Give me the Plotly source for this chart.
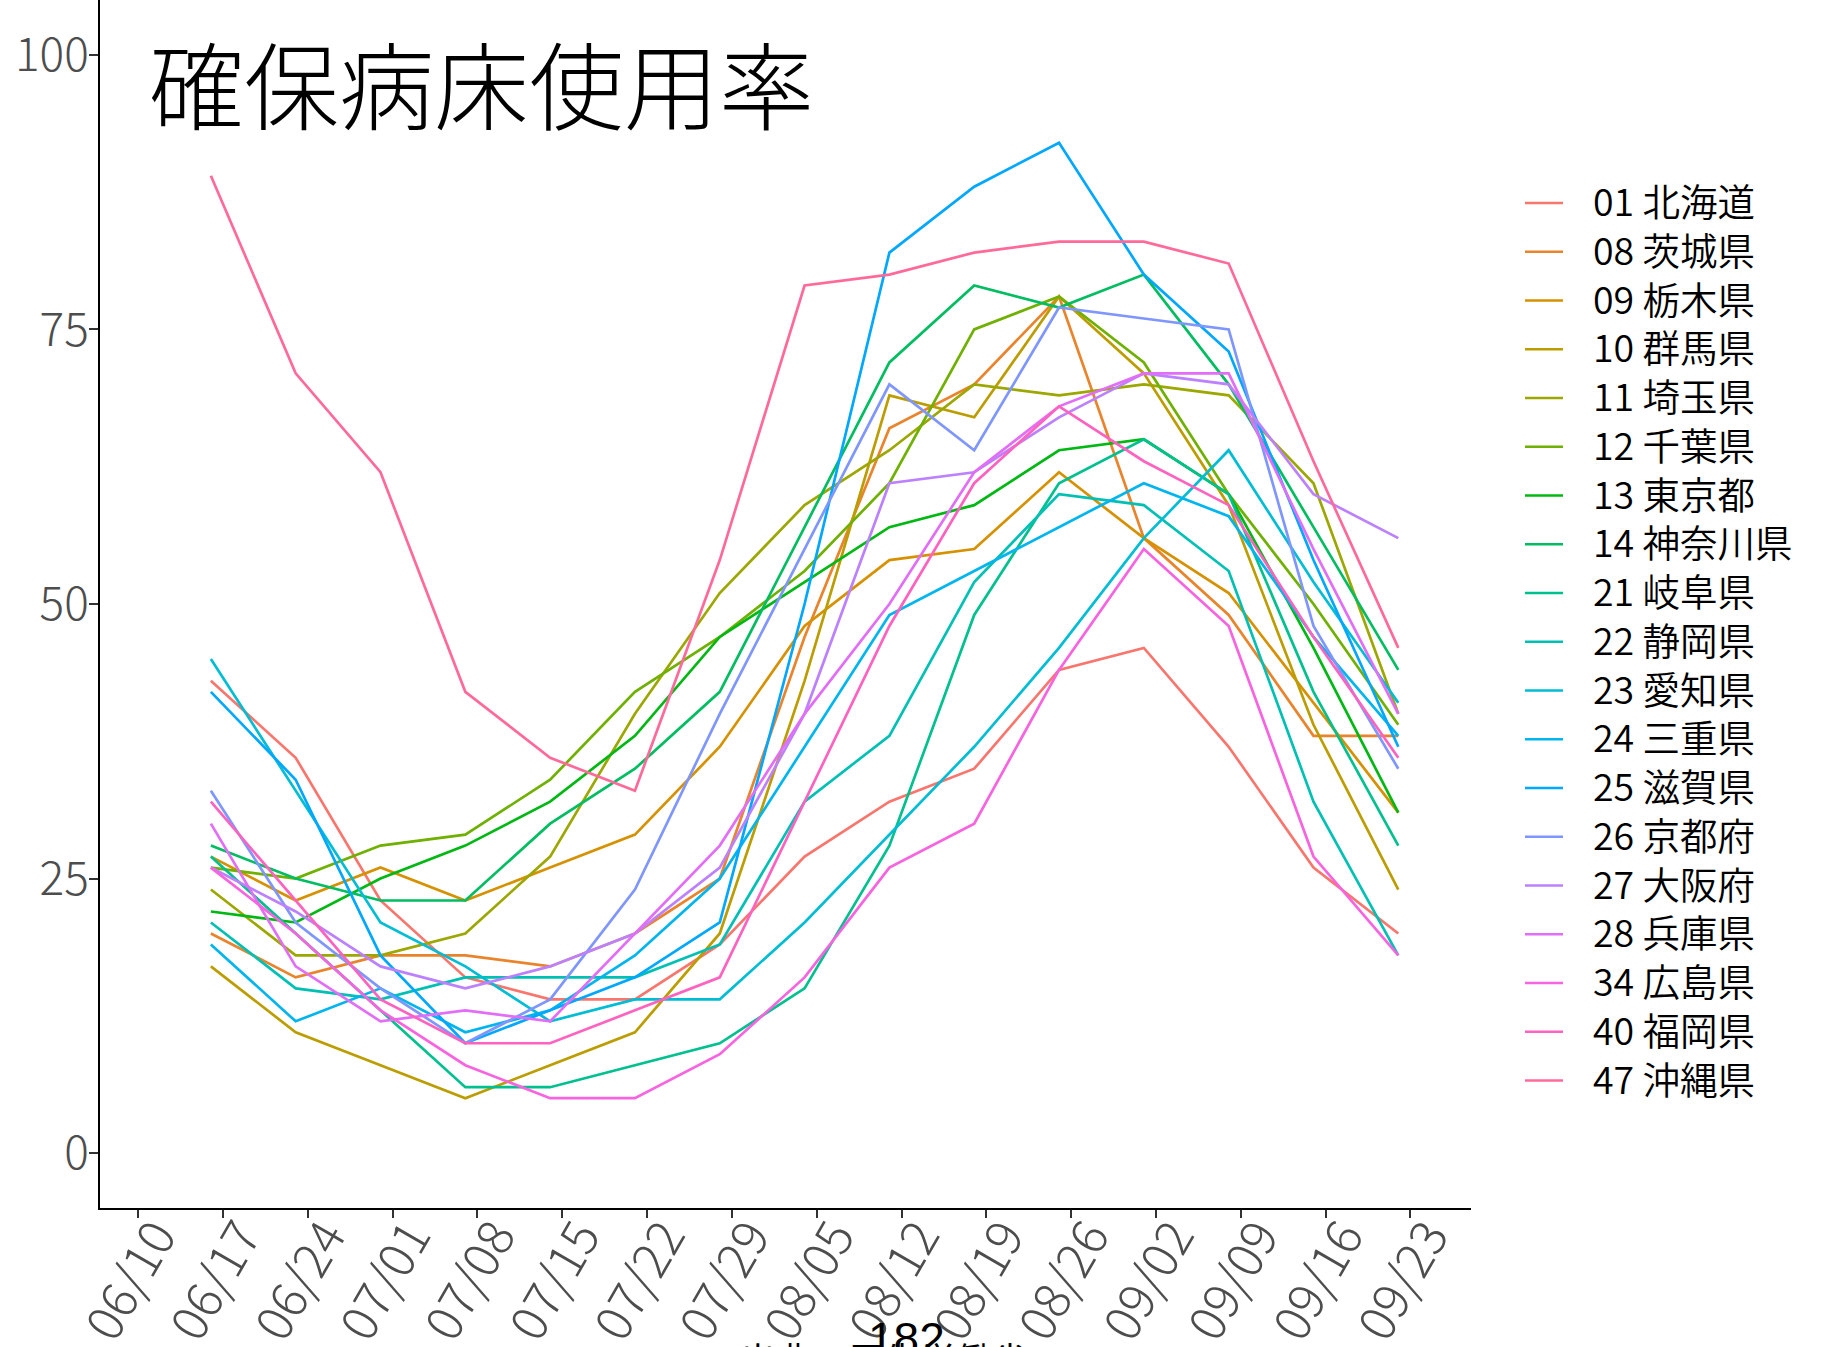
import math
import plotly.graph_objects as go

# ---------------- data ----------------
dates = ["2021-06-16", "2021-06-23", "2021-06-30", "2021-07-07", "2021-07-14",
         "2021-07-21", "2021-07-28", "2021-08-04", "2021-08-11", "2021-08-18",
         "2021-08-25", "2021-09-01", "2021-09-08", "2021-09-15", "2021-09-22"]

tick_dates = ["2021-06-10", "2021-06-17", "2021-06-24", "2021-07-01", "2021-07-08",
              "2021-07-15", "2021-07-22", "2021-07-29", "2021-08-05", "2021-08-12",
              "2021-08-19", "2021-08-26", "2021-09-02", "2021-09-09", "2021-09-16",
              "2021-09-23"]
tick_labels = ["06/10", "06/17", "06/24", "07/01", "07/08", "07/15", "07/22", "07/29",
               "08/05", "08/12", "08/19", "08/26", "09/02", "09/09", "09/16", "09/23"]

prefectures = ["01 北海道", "08 茨城県", "09 栃木県", "10 群馬県", "11 埼玉県",
               "12 千葉県", "13 東京都", "14 神奈川県", "21 岐阜県", "22 静岡県",
               "23 愛知県", "24 三重県", "25 滋賀県", "26 京都府", "27 大阪府",
               "28 兵庫県", "34 広島県", "40 福岡県", "47 沖縄県"]

hokkaido = [43, 36, 23, 16, 14, 14, 19, 27, 32, 35, 44, 46, 37, 26, 20]
ibaraki  = [20, 16, 18, 18, 17, 20, 25, 47, 66, 70, 78, 56, 49, 38, 38]
tochigi  = [27, 23, 26, 23, 26, 29, 37, 48, 54, 55, 62, 56, 51, 41, 31]
gunma    = [17, 11, 8, 5, 8, 11, 20, 43, 69, 67, 78, 71, 59, 39, 24]
saitama  = [24, 18, 18, 20, 27, 40, 51, 59, 64, 70, 69, 70, 69, 61, 40]
chiba    = [26, 25, 28, 29, 34, 42, 47, 53, 61, 75, 78, 72, 60, 50, 39]
tokyo    = [22, 21, 25, 28, 32, 38, 47, 52, 57, 59, 64, 65, 60, 46, 31]
kanagawa = [28, 25, 23, 23, 30, 35, 42, 57, 72, 79, 77, 80, 70, 57, 44]
gifu     = [27, 20, 13, 6, 6, 8, 10, 15, 28, 49, 61, 65, 60, 42, 28]
shizuoka = [21, 15, 14, 16, 16, 16, 19, 32, 38, 52, 60, 59, 53, 32, 18]
aichi    = [45, 33, 21, 17, 12, 14, 14, 21, 29, 37, 46, 56, 64, 52, 41]
mie      = [19, 12, 15, 11, 13, 18, 25, 37, 49, 53, 57, 61, 58, 47, 38]
shiga    = [42, 34, 18, 10, 13, 16, 21, 50, 82, 88, 92, 80, 73, 54, 37]
kyoto    = [33, 21, 15, 10, 14, 24, 40, 55, 70, 64, 77, 76, 75, 48, 35]
osaka    = [26, 22, 17, 15, 17, 20, 26, 40, 61, 62, 67, 71, 70, 60, 56]
hyogo    = [30, 17, 12, 13, 12, 20, 28, 40, 50, 62, 68, 71, 71, 55, 40]
hiroshima = [26, 20, 13, 8, 5, 5, 9, 16, 26, 30, 44, 55, 48, 27, 18]
fukuoka  = [32, 23, 14, 10, 10, 13, 16, 32, 48, 61, 68, 63, 59, 47, 36]
okinawa  = [89, 71, 62, 42, 36, 33, 54, 79, 80, 82, 83, 83, 81, 63, 46]

series_values = [hokkaido, ibaraki, tochigi, gunma, saitama, chiba, tokyo, kanagawa,
                 gifu, shizuoka, aichi, mie, shiga, kyoto, osaka, hyogo, hiroshima,
                 fukuoka, okinawa]

title_text = "確保病床使用率"
caption_text = "出典：厚生労働省"
page_number = "182"


# ------------- ggplot2-like hue palette (HCL, l=65, c=100) -------------
def hcl_hex(h, c=100.0, l=65.0):
    hr = math.radians(h)
    U, V = c * math.cos(hr), c * math.sin(hr)
    Xn, Yn, Zn = 95.047, 100.0, 108.883
    Y = Yn * ((l + 16) / 116) ** 3 if l > 8 else Yn * l / 903.3
    den = Xn + 15 * Yn + 3 * Zn
    un, vn = 4 * Xn / den, 9 * Yn / den
    u = U / (13 * l) + un
    v = V / (13 * l) + vn
    X = 9.0 * Y * u / (4 * v)
    Z = -X / 3 - 5 * Y + 3 * Y / v
    X, Y, Z = X / 100, Y / 100, Z / 100
    r = 3.240479 * X - 1.537150 * Y - 0.498535 * Z
    g = -0.969256 * X + 1.875992 * Y + 0.041556 * Z
    b = 0.055648 * X - 0.204043 * Y + 1.057311 * Z

    def gam(t):
        t = 1.055 * t ** (1 / 2.4) - 0.055 if t > 0.0031308 else 12.92 * t
        return max(0, min(255, round(t * 255)))
    return "#{:02X}{:02X}{:02X}".format(gam(r), gam(g), gam(b))


n = len(prefectures)
colors = [hcl_hex(15 + 360.0 * i / n) for i in range(n)]

FONT = "Noto Sans CJK JP"
W, H = 1826, 1347
ML, MR, MT, MB = 100, 355, 0, 139
PW, PH = W - ML - MR, H - MT - MB


def px_x(px):
    return (px - ML) / PW


def px_y(py):
    return (H - MB - py) / PH


fig = go.Figure()
for name, vals, col in zip(prefectures, series_values, colors):
    fig.add_trace(go.Scatter(x=dates, y=vals, mode="lines", name=name,
                             line=dict(color=col, width=2.7), showlegend=False))

fig.update_layout(
    width=W, height=H,
    margin=dict(l=ML, r=MR, t=MT, b=MB, autoexpand=False),
    paper_bgcolor="white", plot_bgcolor="white",
    font=dict(family=FONT, color="#000000"),
    showlegend=False,
)

fig.update_xaxes(
    type="date", range=["2021-06-06 20:24", "2021-09-28 00:00"],
    tickmode="array", tickvals=tick_dates, ticktext=tick_labels,
    tickangle=-60, ticks="outside", ticklen=8, tickwidth=2, tickcolor="#333333",
    showline=True, linecolor="black", linewidth=2, showgrid=False, zeroline=False,
    tickfont=dict(family=FONT, size=50, color="#4D4D4D", weight=300),
    automargin=False, ticklabelstandoff=-31, ticklabelshift=18,
)
fig.update_yaxes(
    range=[-5, 105], tickmode="array", tickvals=[0, 25, 50, 75, 100],
    ticks="outside", ticklen=9, tickwidth=2, tickcolor="#333333",
    showline=True, linecolor="black", linewidth=2, showgrid=False, zeroline=False,
    tickfont=dict(family=FONT, size=46, color="#4D4D4D", weight=300),
    automargin=False, ticklabelstandoff=-9,
)

# title inside the panel
fig.add_annotation(text=title_text, xref="paper", yref="paper",
                   x=px_x(147), y=px_y(82), xanchor="left", yanchor="middle",
                   showarrow=False,
                   font=dict(family=FONT, size=95, color="black", weight=300))

# legend: coloured keys + one multi-line label block
row0, row_step = 203, 48.75
for k, col in enumerate(colors):
    yy = row0 + row_step * k
    fig.add_shape(type="line", xref="paper", yref="paper",
                  x0=px_x(1525), x1=px_x(1563), y0=px_y(yy), y1=px_y(yy),
                  line=dict(color=col, width=2.7))
mid = row0 + row_step * (n - 1) / 2.0
fig.add_annotation(text="<br>".join(prefectures), xref="paper", yref="paper",
                   x=px_x(1592), y=px_y(mid - 3), xanchor="left", yanchor="middle",
                   align="left", showarrow=False, borderpad=0,
                   font=dict(family=FONT, size=row_step / 1.3, color="black", weight=350))

# caption (cut by the bottom edge) and page number
fig.add_annotation(text=caption_text, xref="paper", yref="paper",
                   x=px_x(738), y=px_y(1330), xanchor="left", yanchor="top",
                   showarrow=False, font=dict(family=FONT, size=36, color="black"))
fig.add_annotation(text=page_number, xref="paper", yref="paper",
                   x=px_x(866), y=px_y(1311), xanchor="left", yanchor="top",
                   showarrow=False,
                   font=dict(family="Liberation Sans", size=46, color="black"))

fig.write_html("out.html", config={"displayModeBar": False},
               post_script="document.body.style.margin='0px';")
